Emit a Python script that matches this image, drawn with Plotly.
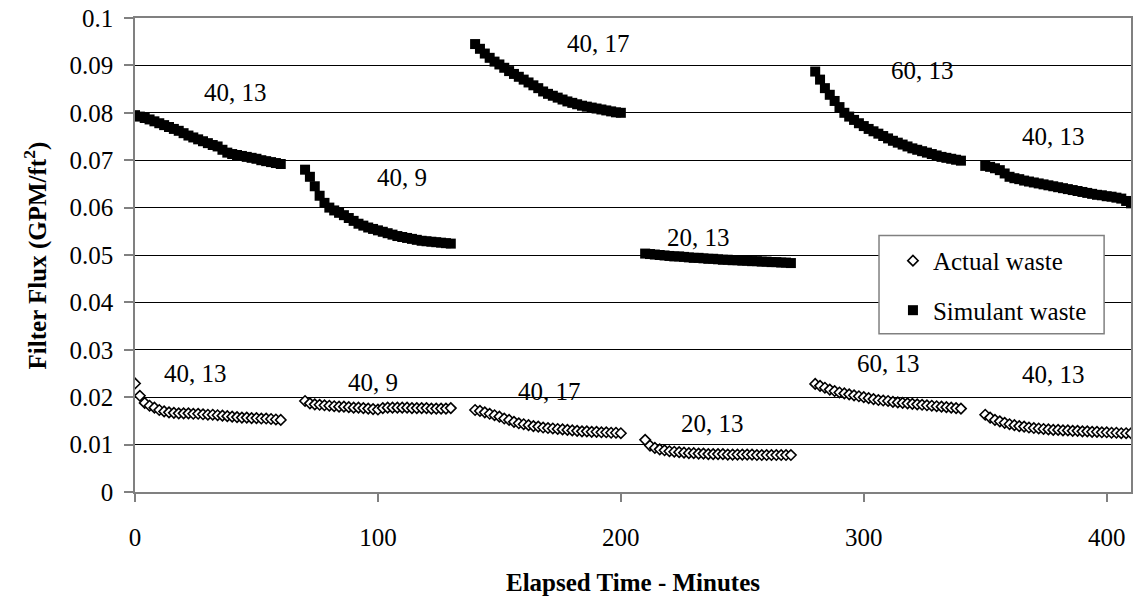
import plotly.graph_objects as go

# ---------------- data ----------------
segment_starts = [0, 70, 140, 210, 280, 350]
offsets = [0, 2, 4, 6, 8, 10, 12, 14, 16, 18, 20, 22, 24, 26, 28, 30,
           32, 34, 36, 38, 40, 42, 44, 46, 48, 50, 52, 54, 56, 58, 60]

actual_seg1 = [0.0229, 0.0203, 0.0188, 0.0182, 0.0178, 0.0173, 0.0170, 0.0168, 0.0167, 0.0166, 0.0166,
               0.0166, 0.0165, 0.0165, 0.0164, 0.0163, 0.0163, 0.0162, 0.0161, 0.0160, 0.0159,
               0.0158, 0.0157, 0.0157, 0.0156, 0.0156, 0.0155, 0.0155, 0.0154, 0.0153, 0.0152]
actual_seg2 = [0.0192, 0.0187, 0.0185, 0.0184, 0.0183, 0.0182, 0.0181, 0.0180, 0.0180, 0.0179, 0.0178,
               0.0178, 0.0177, 0.0176, 0.0175, 0.0174, 0.0177, 0.0178, 0.0178, 0.0178, 0.0178,
               0.0178, 0.0177, 0.0177, 0.0177, 0.0177, 0.0176, 0.0176, 0.0176, 0.0176, 0.0177]
actual_seg3 = [0.0173, 0.0171, 0.0168, 0.0165, 0.0162, 0.0159, 0.0155, 0.0152, 0.0148, 0.0145, 0.0143,
               0.0141, 0.0139, 0.0138, 0.0136, 0.0135, 0.0134, 0.0133, 0.0132, 0.0131, 0.0130,
               0.0129, 0.0128, 0.0128, 0.0127, 0.0127, 0.0126, 0.0126, 0.0125, 0.0125, 0.0124]
actual_seg4 = [0.0110, 0.0098, 0.0093, 0.0090, 0.0088, 0.0086, 0.0085, 0.0084, 0.0083, 0.0082, 0.0082,
               0.0081, 0.0081, 0.0080, 0.0080, 0.0080, 0.0080, 0.0079, 0.0079, 0.0079, 0.0079,
               0.0079, 0.0079, 0.0078, 0.0078, 0.0078, 0.0078, 0.0078, 0.0078, 0.0078, 0.0078]
actual_seg5 = [0.0228, 0.0224, 0.0220, 0.0216, 0.0213, 0.0210, 0.0208, 0.0206, 0.0204, 0.0202, 0.0200,
               0.0198, 0.0196, 0.0194, 0.0193, 0.0192, 0.0190, 0.0189, 0.0188, 0.0187, 0.0186,
               0.0185, 0.0184, 0.0183, 0.0182, 0.0181, 0.0180, 0.0179, 0.0178, 0.0177, 0.0176]
actual_seg6 = [0.0163, 0.0157, 0.0152, 0.0149, 0.0146, 0.0143, 0.0141, 0.0139, 0.0138, 0.0136, 0.0135,
               0.0134, 0.0133, 0.0132, 0.0131, 0.0131, 0.0130, 0.0130, 0.0129, 0.0129, 0.0128,
               0.0128, 0.0127, 0.0127, 0.0126, 0.0126, 0.0125, 0.0125, 0.0124, 0.0124, 0.0124]

sim_seg1 = [0.0795, 0.0792, 0.0789, 0.0786, 0.0782, 0.0778, 0.0774, 0.0770, 0.0766, 0.0762, 0.0757,
            0.0752, 0.0748, 0.0744, 0.0740, 0.0736, 0.0732, 0.0729, 0.0722, 0.0716, 0.0713,
            0.0711, 0.0709, 0.0707, 0.0705, 0.0703, 0.0700, 0.0698, 0.0696, 0.0694, 0.0692]
sim_seg2 = [0.0680, 0.0665, 0.0645, 0.0625, 0.0610, 0.0600, 0.0594, 0.0589, 0.0584, 0.0578, 0.0572,
            0.0566, 0.0562, 0.0558, 0.0555, 0.0552, 0.0549, 0.0546, 0.0543, 0.0540, 0.0538,
            0.0536, 0.0534, 0.0532, 0.0530, 0.0529, 0.0528, 0.0527, 0.0526, 0.0525, 0.0524]
sim_seg3 = [0.0945, 0.0935, 0.0925, 0.0916, 0.0908, 0.0902, 0.0895, 0.0888, 0.0882, 0.0876, 0.0870,
            0.0864, 0.0858, 0.0852, 0.0845, 0.0840, 0.0836, 0.0832, 0.0828, 0.0824, 0.0821,
            0.0818, 0.0815, 0.0813, 0.0811, 0.0809, 0.0807, 0.0805, 0.0803, 0.0801, 0.0800]
sim_seg4 = [0.0503, 0.0502, 0.0501, 0.0500, 0.0499, 0.0498, 0.0497, 0.0497, 0.0496, 0.0495, 0.0494,
            0.0494, 0.0493, 0.0492, 0.0492, 0.0491, 0.0490, 0.0490, 0.0489, 0.0489, 0.0488,
            0.0488, 0.0487, 0.0487, 0.0486, 0.0486, 0.0485, 0.0485, 0.0484, 0.0484, 0.0483]
sim_seg5 = [0.0887, 0.0870, 0.0852, 0.0838, 0.0825, 0.0812, 0.0800, 0.0792, 0.0785, 0.0778, 0.0772,
            0.0766, 0.0761, 0.0756, 0.0751, 0.0746, 0.0741, 0.0737, 0.0733, 0.0729, 0.0725,
            0.0722, 0.0719, 0.0716, 0.0713, 0.0710, 0.0707, 0.0705, 0.0703, 0.0701, 0.0699]
sim_seg6 = [0.0688, 0.0686, 0.0683, 0.0679, 0.0672, 0.0665, 0.0662, 0.0660, 0.0657, 0.0655, 0.0653,
            0.0651, 0.0649, 0.0647, 0.0645, 0.0643, 0.0641, 0.0639, 0.0637, 0.0635, 0.0633,
            0.0631, 0.0629, 0.0627, 0.0626, 0.0624, 0.0623, 0.0621, 0.0619, 0.0614, 0.0609]

x_tick_vals = [0, 100, 200, 300, 400]
y_tick_vals = [0, 0.01, 0.02, 0.03, 0.04, 0.05, 0.06, 0.07, 0.08, 0.09, 0.1]
y_tick_text = ["0", "0.01", "0.02", "0.03", "0.04", "0.05", "0.06", "0.07", "0.08", "0.09", "0.1"]

sim_labels = ["40, 13", "40, 9", "40, 17", "20, 13", "60, 13", "40, 13"]
actual_labels = ["40, 13", "40, 9", "40, 17", "20, 13", "60, 13", "40, 13"]
# label anchor positions (x minutes, y flux)
sim_label_x = [41.5, 110, 191, 232, 324, 378]
sim_label_y = [0.0842, 0.0664, 0.0947, 0.0537, 0.0889, 0.0751]
act_label_x = [24.7, 98, 170.5, 237.6, 310, 378]
act_label_y = [0.0249, 0.0232, 0.0212, 0.0145, 0.0272, 0.0247]

actual_segs = [actual_seg1, actual_seg2, actual_seg3, actual_seg4, actual_seg5, actual_seg6]
sim_segs = [sim_seg1, sim_seg2, sim_seg3, sim_seg4, sim_seg5, sim_seg6]

# ---------------- build ----------------
def flatten(segs):
    xs, ys = [], []
    for start, seg in zip(segment_starts, segs):
        for off, v in zip(offsets, seg):
            xs.append(start + off)
            ys.append(v)
    return xs, ys

ax, ay = flatten(actual_segs)
sx, sy = flatten(sim_segs)

FONT = "Liberation Serif, Times New Roman, serif"
FS = 25

fig = go.Figure()
fig.add_trace(go.Scatter(
    x=ax, y=ay, mode="markers", name="Actual waste", legendgroup="a",
    marker=dict(symbol="diamond", size=8, color="white",
                line=dict(color="black", width=1.6)),
))
fig.add_trace(go.Scatter(
    x=sx, y=sy, mode="markers", name="Simulant waste", legendgroup="s",
    marker=dict(symbol="square", size=10, color="black", line=dict(width=0)),
))

annotations = []
for t, x, y in zip(sim_labels, sim_label_x, sim_label_y):
    annotations.append(dict(x=x, y=y, xref="x", yref="y", text=t, showarrow=False,
                            font=dict(family=FONT, size=FS, color="black")))
for t, x, y in zip(actual_labels, act_label_x, act_label_y):
    annotations.append(dict(x=x, y=y, xref="x", yref="y", text=t, showarrow=False,
                            font=dict(family=FONT, size=FS, color="black")))

# axis titles
annotations.append(dict(x=-0.1, y=0.5, xref="paper", yref="paper",
                        text="<b>Filter Flux (GPM/ft<sup>2</sup>)</b>", textangle=-90,
                        showarrow=False, xanchor="center", yanchor="middle",
                        font=dict(family=FONT, size=FS, color="black")))
annotations.append(dict(x=0.5, y=-0.19, xref="paper", yref="paper",
                        text="<b>Elapsed Time - Minutes</b>",
                        showarrow=False, xanchor="center", yanchor="middle",
                        font=dict(family=FONT, size=FS, color="black")))

# legend frame
shapes = [dict(type="rect", xref="paper", yref="paper",
               x0=0.747, x1=0.973, y0=0.334, y1=0.541,
               fillcolor="white", line=dict(color="#808080", width=1.5), layer="above")]

fig.update_layout(
    width=1138, height=605,
    margin=dict(l=135, r=5, t=17, b=113),
    paper_bgcolor="white", plot_bgcolor="white",
    font=dict(family=FONT, size=FS, color="black"),
    showlegend=True,
    legend=dict(x=0.761, y=0.536, xanchor="left", yanchor="top",
                bgcolor="rgba(0,0,0,0)", borderwidth=0,
                traceorder="grouped", tracegroupgap=14,
                font=dict(family=FONT, size=FS, color="black"),
                itemsizing="trace"),
    annotations=annotations,
    shapes=shapes,
)

fig.update_xaxes(
    range=[0, 410], tickvals=x_tick_vals, ticks="outside", ticklen=8, tickcolor="#808080",
    tickwidth=1.5, showline=True, linecolor="#808080", linewidth=1.5, mirror=True,
    showgrid=False, zeroline=False, ticklabelstandoff=14,
    tickfont=dict(family=FONT, size=FS, color="black"),
)
fig.update_yaxes(
    range=[0, 0.1], tickvals=y_tick_vals, ticktext=y_tick_text, ticks="outside", ticklen=9,
    tickcolor="#808080", tickwidth=1.5, showline=True, linecolor="#808080", linewidth=1.5,
    mirror=True, showgrid=True, gridcolor="black", gridwidth=1, zeroline=False,
    ticklabelstandoff=6,
    tickfont=dict(family=FONT, size=FS, color="black"),
)

fig.write_html("out.html", config={"displayModeBar": False},
               post_script="document.body.style.margin='0';document.body.style.overflow='hidden';")
